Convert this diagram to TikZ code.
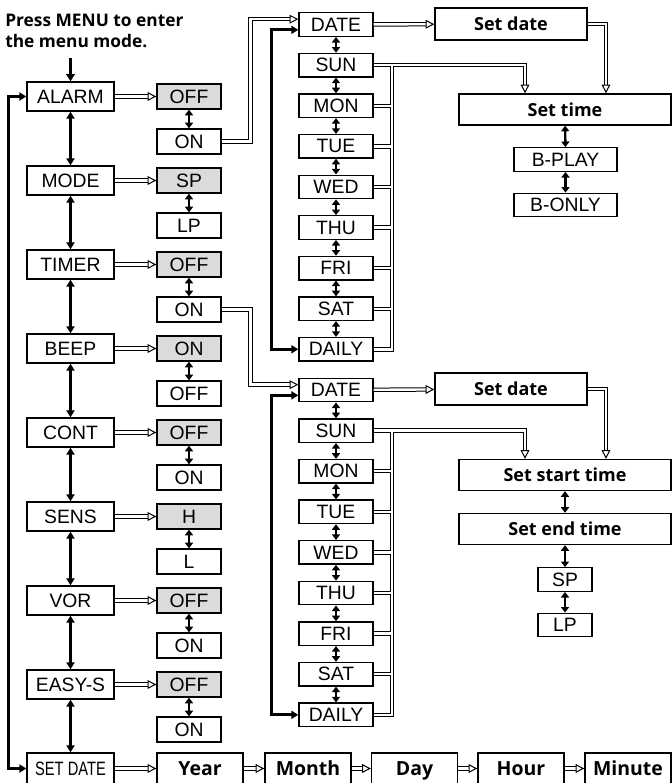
\documentclass[tikz,border=0pt]{standalone}
\usepackage{fontspec}
\setmainfont{Liberation Sans}
\newfontfamily\labelfont{Open Sans}
\usepackage{graphicx}
\usetikzlibrary{arrows.meta,positioning,calc}

\begin{document}
\begin{tikzpicture}[x=0.75pt,y=-0.75pt,
  box/.style={draw,line width=1pt,minimum width=65.25pt,minimum height=21.75pt,inner sep=0pt,font=\fontsize{14.5}{16}\selectfont},
  opt/.style={box,minimum width=48pt,minimum height=18.75pt},
  sel/.style={opt,fill=black!14},
  day/.style={box,minimum width=55.5pt,minimum height=17.6pt},
  setbox/.style={box,minimum width=114pt,minimum height=24pt,font=\labelfont\bfseries\fontsize{13.5}{15}\selectfont},
  wide/.style={setbox,minimum width=159pt,minimum height=23.25pt},
  small/.style={day,minimum width=40.5pt},
  mid/.style={day,minimum width=77.25pt},
  field/.style={box,minimum width=64.5pt,minimum height=23.25pt,text height=13.4pt,text depth=3pt,font=\labelfont\bfseries\fontsize{14.6}{16}\selectfont},
  go/.style={line width=2.2pt,-{Triangle[length=5.5pt,width=6.5pt]}},
  two/.style={line width=2.2pt,{Triangle[length=5.25pt,width=6pt]}-{Triangle[length=5.25pt,width=6pt]}},
  twos/.style={line width=1.8pt,{Triangle[length=4.2pt,width=6pt]}-{Triangle[length=4.2pt,width=6pt]}},
  dbl/.style={double,double distance=1.8pt,line width=0.75pt,-{Triangle[open,length=6.5pt,width=6.5pt,line width=0.75pt]}}]
 \useasboundingbox (0,0) rectangle (672,783);
 \node[anchor=north west,inner sep=0pt,align=left,font=\labelfont\bfseries\fontsize{13}{16.2}\selectfont] (hint) at (5,13.5) {Press MENU to enter\\the menu mode.};
 % menu items
 \node[box] (alarm) at (70.5,96.5) {ALARM};
 \node[box] (mode) at (70.5,180.5) {MODE};
 \node[box] (timer) at (70.5,264.5) {TIMER};
 \node[box] (beep) at (70.5,348.5) {BEEP};
 \node[box] (cont) at (70.5,432.5) {CONT};
 \node[box] (sens) at (70.5,516.5) {SENS};
 \node[box] (vor) at (70.5,600.5) {VOR};
 \node[box] (easys) at (70.5,684.5) {EASY-S};
 \node[box,minimum height=23.25pt] (setdate) at (70.5,768.5) {\scalebox{0.76}[1]{SET DATE}};
 % settings
 \node[sel] (alarmoff) at (189,96.5) {OFF};
 \node[opt] (alarmon) at (189,141.5) {ON};
 \node[sel] (modesp) at (189,180.5) {SP};
 \node[opt] (modelp) at (189,225.5) {LP};
 \node[sel] (timeroff) at (189,264.5) {OFF};
 \node[opt] (timeron) at (189,309.5) {ON};
 \node[sel] (beepon) at (189,348.5) {ON};
 \node[opt] (beepoff) at (189,393.5) {OFF};
 \node[sel] (contoff) at (189,432.5) {OFF};
 \node[opt] (conton) at (189,477.5) {ON};
 \node[sel] (sensh) at (189,516.5) {H};
 \node[opt] (sensl) at (189,561.5) {L};
 \node[sel] (voroff) at (189,600.5) {OFF};
 \node[opt] (voron) at (189,645.5) {ON};
 \node[sel] (easyoff) at (189,684.5) {OFF};
 \node[opt] (easyon) at (189,729.5) {ON};
 % alarm days
 \node[day] (dateA) at (336,24.5) {DATE};
 \node[day] (sunA) at (336,65.1) {SUN};
 \node[day] (monA) at (336,105.7) {MON};
 \node[day] (tueA) at (336,146.3) {TUE};
 \node[day] (wedA) at (336,186.9) {WED};
 \node[day] (thuA) at (336,227.5) {THU};
 \node[day] (friA) at (336,268.1) {FRI};
 \node[day] (satA) at (336,308.7) {SAT};
 \node[day] (dailyA) at (336,349.3) {DAILY};
 \node[setbox] (setdA) at (511,24) {Set date};
 \node[wide] (settime) at (565,109.5) {Set time};
 \node[mid] (bplay) at (565.5,159.5) {B-PLAY};
 \node[mid] (bonly) at (565.5,205) {B-ONLY};
 % timer days
 \node[day] (dateB) at (336,390) {DATE};
 \node[day] (sunB) at (336,430.6) {SUN};
 \node[day] (monB) at (336,471.2) {MON};
 \node[day] (tueB) at (336,511.8) {TUE};
 \node[day] (wedB) at (336,552.4) {WED};
 \node[day] (thuB) at (336,593) {THU};
 \node[day] (friB) at (336,633.6) {FRI};
 \node[day] (satB) at (336,674.2) {SAT};
 \node[day] (dailyB) at (336,714.8) {DAILY};
 \node[setbox] (setdB) at (511,389) {Set date};
 \node[wide] (setstart) at (565,475) {Set start time};
 \node[wide] (setend) at (565,529) {Set end time};
 \node[small] (spB) at (565,579.5) {SP};
 \node[small] (lpB) at (565,625) {LP};
 % clock
 \node[field] (year) at (200,768.5) {Year};
 \node[field] (month) at (308,768.5) {Month};
 \node[field] (day) at (414.5,768.5) {Day};
 \node[field] (hour) at (521,768.5) {Hour};
 \node[field] (minute) at (628,768.5) {Minute};
 \coordinate (start) at (70.5,58);
 \coordinate (busA) at (392,0);
 \coordinate (busB) at (392,0);
 % main loop
 \draw[go] (start) -- (alarm);
 \draw[two] (alarm) -- (mode);
 \draw[two] (mode) -- (timer);
 \draw[two] (timer) -- (beep);
 \draw[two] (beep) -- (cont);
 \draw[two] (cont) -- (sens);
 \draw[two] (sens) -- (vor);
 \draw[two] (vor) -- (easys);
 \draw[two] (easys) -- (setdate);
 \draw[two] (alarm.west) -- ++(-17.5,0) |- (setdate.west);
 % into the settings
 \draw[dbl] (alarm) -- (alarmoff);
 \draw[dbl] (mode) -- (modesp);
 \draw[dbl] (timer) -- (timeroff);
 \draw[dbl] (beep) -- (beepon);
 \draw[dbl] (cont) -- (contoff);
 \draw[dbl] (sens) -- (sensh);
 \draw[dbl] (vor) -- (voroff);
 \draw[dbl] (easys) -- (easyoff);
 \draw[twos] (alarmoff) -- (alarmon);
 \draw[twos] (modesp) -- (modelp);
 \draw[twos] (timeroff) -- (timeron);
 \draw[twos] (beepon) -- (beepoff);
 \draw[twos] (contoff) -- (conton);
 \draw[twos] (sensh) -- (sensl);
 \draw[twos] (voroff) -- (voron);
 \draw[twos] (easyoff) -- (easyon);
 % alarm branch
 \draw[dbl] (alarmon.east) -- ++(29,0) |- ([yshift=4pt]dateA.west);
 \draw[two] ([yshift=-4pt]dateA.west) -- ++(-27,0) |- (dailyA.west);
 \draw[twos] (dateA) -- (sunA);
 \draw[twos] (sunA) -- (monA);
 \draw[twos] (monA) -- (tueA);
 \draw[twos] (tueA) -- (wedA);
 \draw[twos] (wedA) -- (thuA);
 \draw[twos] (thuA) -- (friA);
 \draw[twos] (friA) -- (satA);
 \draw[twos] (satA) -- (dailyA);
 \draw[dbl] (dateA) -- (setdA);
 \draw[dbl] (setdA.east) -| ([xshift=30.75pt]settime.north);
 \draw[dbl] (monA.east) -- (monA.east -| busA) (tueA.east) -- (tueA.east -| busA)
   (wedA.east) -- (wedA.east -| busA) (thuA.east) -- (thuA.east -| busA)
   (friA.east) -- (friA.east -| busA) (satA.east) -- (satA.east -| busA)
   (dailyA.east) -| (sunA.east -| busA) (sunA.east) -| ([xshift=-30pt]settime.north);
 \draw[twos] (settime) -- (bplay);
 \draw[twos] (bplay) -- (bonly);
 % timer branch
 \draw[dbl] (timeron.east) -- ++(29,0) |- ([yshift=4pt]dateB.west);
 \draw[two] ([yshift=-4pt]dateB.west) -- ++(-27,0) |- (dailyB.west);
 \draw[twos] (dateB) -- (sunB);
 \draw[twos] (sunB) -- (monB);
 \draw[twos] (monB) -- (tueB);
 \draw[twos] (tueB) -- (wedB);
 \draw[twos] (wedB) -- (thuB);
 \draw[twos] (thuB) -- (friB);
 \draw[twos] (friB) -- (satB);
 \draw[twos] (satB) -- (dailyB);
 \draw[dbl] (dateB) -- (setdB);
 \draw[dbl] (setdB.east) -| ([xshift=30.75pt]setstart.north);
 \draw[dbl] (monB.east) -- (monB.east -| busB) (tueB.east) -- (tueB.east -| busB)
   (wedB.east) -- (wedB.east -| busB) (thuB.east) -- (thuB.east -| busB)
   (friB.east) -- (friB.east -| busB) (satB.east) -- (satB.east -| busB)
   (dailyB.east) -| (sunB.east -| busB) (sunB.east) -| ([xshift=-30pt]setstart.north);
 \draw[twos] (setstart) -- (setend);
 \draw[twos] (setend) -- (spB);
 \draw[twos] (spB) -- (lpB);
 % date and clock
 \draw[dbl] (setdate) -- (year);
 \draw[dbl] (year) -- (month);
 \draw[dbl] (month) -- (day);
 \draw[dbl] (day) -- (hour);
 \draw[dbl] (hour) -- (minute);
\end{tikzpicture}
\end{document}
